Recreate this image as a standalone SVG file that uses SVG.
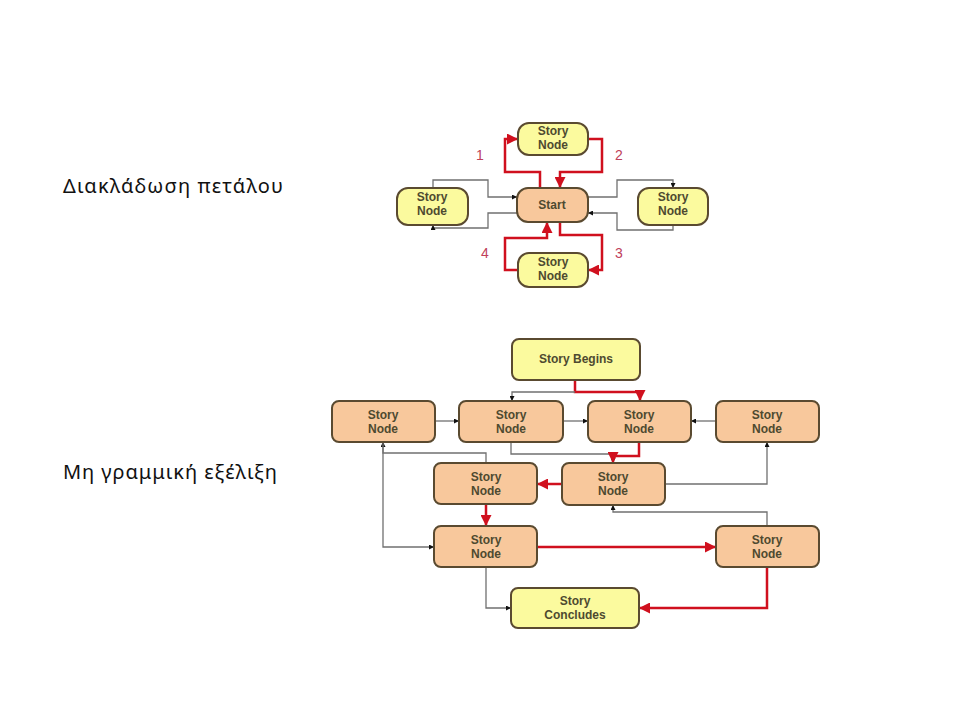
<svg xmlns="http://www.w3.org/2000/svg" width="960" height="720" viewBox="0 0 960 720">
<defs>
<style>
.lbl{font-family:"Noto Sans","Open Sans","DejaVu Sans",sans-serif;font-size:20px;fill:#111}
.y{fill:#fbfa9e;stroke:#5a4a30;stroke-width:2}
.o{fill:#f8c89c;stroke:#5a4a30;stroke-width:2}
.t{font-family:"Liberation Sans",Arial,sans-serif;font-weight:bold;font-size:12px;fill:#4e4a30;text-anchor:middle}
.k{fill:none;stroke:#707070;stroke-width:1.3;marker-end:url(#ak)}
.r{fill:none;stroke:#d0101e;stroke-width:2.5;marker-end:url(#ar)}
.num{font-family:"Liberation Sans",Arial,sans-serif;font-size:14px;fill:#c0405a;text-anchor:middle}
</style>
<marker id="ak" viewBox="0 0 10 10" refX="10" refY="5" markerWidth="5" markerHeight="5" orient="auto" markerUnits="userSpaceOnUse"><path d="M0,0 L10,5 L0,10 z" fill="#111"/></marker>
<marker id="ar" viewBox="0 0 10 10" refX="10" refY="5" markerWidth="11" markerHeight="11" orient="auto" markerUnits="userSpaceOnUse"><path d="M0,0 L10,5 L0,10 z" fill="#d0101e"/></marker>
</defs>
<rect width="960" height="720" fill="#fff"/>
<text class="lbl" x="63" y="193" textLength="220" lengthAdjust="spacing">Διακλάδωση πετάλου</text>
<text class="lbl" x="63" y="479" textLength="214" lengthAdjust="spacing">Μη γραμμική εξέλιξη</text>

<g id="connectors">
<path class="r" d="M540,188 V172 H505 V139 H518"/>
<path class="r" d="M588,139 H602 V172 H560 V188"/>
<path class="r" d="M560,222 V235 H602 V270 H588"/>
<path class="r" d="M518,270 H505 V238 H547 V222"/>
<path class="k" d="M433,188 V180 H488 V197 H517"/>
<path class="k" d="M517,213 H488 V228 H433 V225"/>
<path class="k" d="M588,197 H617 V180 H673 V188"/>
<path class="k" d="M673,225 V230 H617 V213 H588"/>
<path class="r" d="M575,380 V392 H640 V401"/>
<path class="k" d="M575,392 H512 V401"/>
<path class="k" d="M435,421 H459"/>
<path class="k" d="M563,421 H588"/>
<path class="k" d="M716,421 H691"/>
<path class="k" d="M511,442 V454 H613 V463"/>
<path class="r" d="M639,442 V456 H613 V463"/>
<path class="r" d="M562,484 H537"/>
<path class="k" d="M665,484 H767 V442"/>
<path class="k" d="M486,463 V453 H383 V442"/>
<path class="k" d="M383,442 V547 H434"/>
<path class="r" d="M486,504 V526"/>
<path class="r" d="M537,547 H716"/>
<path class="k" d="M767,526 V512 H613 V505"/>
<path class="k" d="M486,567 V608 H511"/>
<path class="r" d="M767,567 V608 H639"/>
</g>
<g id="numbers">
<text class="num" x="480" y="160">1</text>
<text class="num" x="619" y="160">2</text>
<text class="num" x="619" y="258">3</text>
<text class="num" x="485" y="258">4</text>
</g>

<g id="h-top"><rect class="y" x="518" y="123" width="70" height="32" rx="11"/><text class="t" x="553" y="135">Story</text><text class="t" x="553" y="149">Node</text></g>
<g id="h-start"><rect class="o" x="517" y="188" width="71" height="34" rx="11"/><text class="t" x="552" y="209">Start</text></g>
<g id="h-left"><rect class="y" x="397" y="188" width="71" height="37" rx="11"/><text class="t" x="432" y="201">Story</text><text class="t" x="432" y="215">Node</text></g>
<g id="h-right"><rect class="y" x="638" y="188" width="70" height="37" rx="11"/><text class="t" x="673" y="201">Story</text><text class="t" x="673" y="215">Node</text></g>
<g id="h-bottom"><rect class="y" x="518" y="253" width="70" height="34" rx="11"/><text class="t" x="553" y="266">Story</text><text class="t" x="553" y="280">Node</text></g>

<g id="begins"><rect class="y" x="512" y="339" width="128" height="41" rx="7"/><text class="t" x="576" y="363">Story Begins</text></g>
<g id="n1"><rect class="o" x="332" y="401" width="103" height="41" rx="7"/><text class="t" x="383" y="419">Story</text><text class="t" x="383" y="433">Node</text></g>
<g id="n2"><rect class="o" x="459" y="401" width="104" height="41" rx="7"/><text class="t" x="511" y="419">Story</text><text class="t" x="511" y="433">Node</text></g>
<g id="n3"><rect class="o" x="588" y="401" width="103" height="41" rx="7"/><text class="t" x="639" y="419">Story</text><text class="t" x="639" y="433">Node</text></g>
<g id="n4"><rect class="o" x="716" y="401" width="103" height="41" rx="7"/><text class="t" x="767" y="419">Story</text><text class="t" x="767" y="433">Node</text></g>
<g id="n5"><rect class="o" x="434" y="463" width="103" height="41" rx="7"/><text class="t" x="486" y="481">Story</text><text class="t" x="486" y="495">Node</text></g>
<g id="n6"><rect class="o" x="562" y="463" width="103" height="42" rx="7"/><text class="t" x="613" y="481">Story</text><text class="t" x="613" y="495">Node</text></g>
<g id="n7"><rect class="o" x="434" y="526" width="103" height="41" rx="7"/><text class="t" x="486" y="544">Story</text><text class="t" x="486" y="558">Node</text></g>
<g id="n8"><rect class="o" x="716" y="526" width="103" height="41" rx="7"/><text class="t" x="767" y="544">Story</text><text class="t" x="767" y="558">Node</text></g>
<g id="concludes"><rect class="y" x="511" y="588" width="128" height="40" rx="7"/><text class="t" x="575" y="605">Story</text><text class="t" x="575" y="619">Concludes</text></g>
</svg>
